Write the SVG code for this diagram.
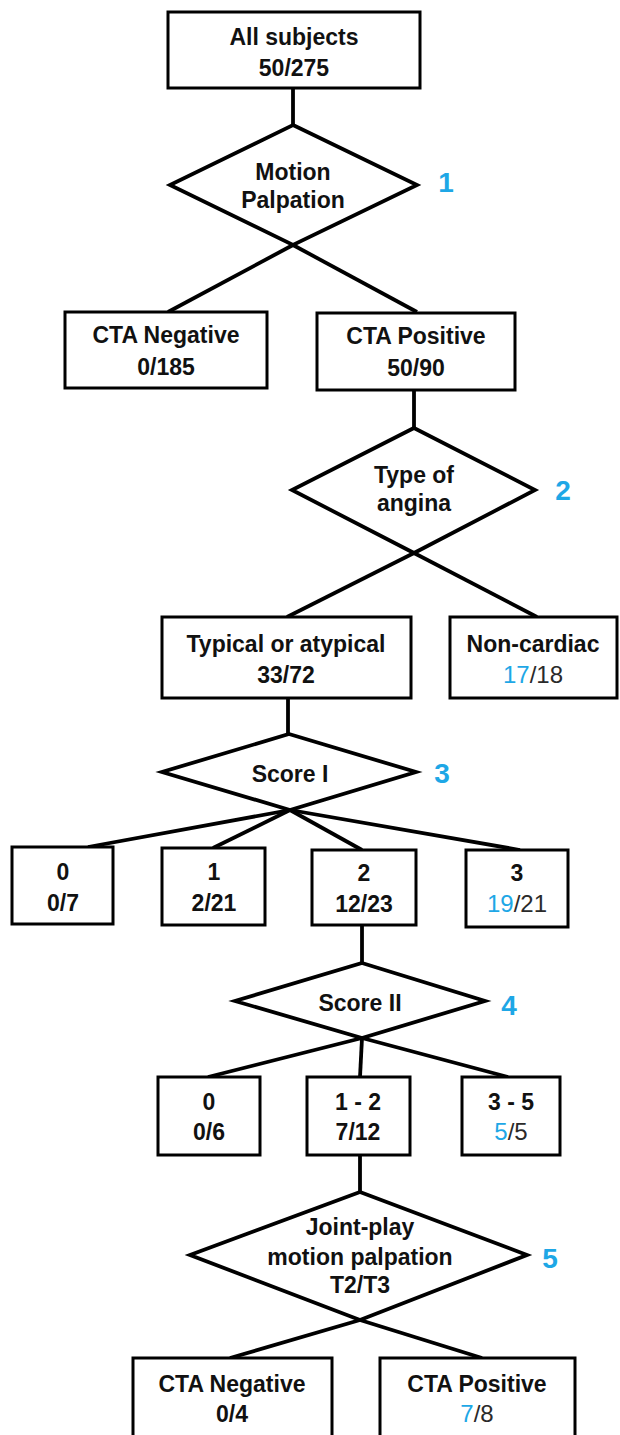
<svg xmlns="http://www.w3.org/2000/svg" width="620" height="1435" viewBox="0 0 620 1435">
<style>
.box{fill:#fff;stroke:#000;stroke-width:3}
.dia{fill:#fff;stroke:#000;stroke-width:3.8;stroke-linejoin:miter}
.con{stroke:#000;stroke-width:3.8;fill:none}
text{font-family:"Liberation Sans",Arial,sans-serif;font-size:23px;font-weight:bold;text-anchor:middle;fill:#111}
.lt{font-weight:normal;font-size:24px}
.num{fill:#1ea7e6;font-size:28px;font-weight:bold;text-anchor:middle}
.b{fill:#1ea7e6}
.g{fill:#2a2a2a}
</style>
<rect width="620" height="1435" fill="#fff"/>
<g id="connectors">
<line class="con" x1="293" y1="88" x2="293" y2="125"/>
<line class="con" x1="293" y1="245" x2="168" y2="312"/>
<line class="con" x1="293" y1="245" x2="417" y2="312"/>
<line class="con" x1="414" y1="390" x2="414" y2="428"/>
<line class="con" x1="414" y1="553" x2="287" y2="617"/>
<line class="con" x1="414" y1="553" x2="537" y2="617"/>
<line class="con" x1="288" y1="697" x2="288" y2="734"/>
<line class="con" x1="290" y1="810" x2="88" y2="847"/>
<line class="con" x1="290" y1="810" x2="213" y2="848"/>
<line class="con" x1="290" y1="810" x2="362" y2="850"/>
<line class="con" x1="290" y1="810" x2="520" y2="850"/>
<line class="con" x1="362" y1="925" x2="362" y2="963"/>
<line class="con" x1="362" y1="1038" x2="208" y2="1077"/>
<line class="con" x1="362" y1="1038" x2="360" y2="1077"/>
<line class="con" x1="362" y1="1038" x2="508" y2="1077"/>
<line class="con" x1="360" y1="1155" x2="360" y2="1192"/>
<line class="con" x1="360" y1="1320" x2="230" y2="1358"/>
<line class="con" x1="360" y1="1320" x2="482" y2="1358"/>
</g>
<g id="n-all">
<rect class="box" x="168" y="12" width="252" height="76"/>
<text x="294" y="45">All subjects</text>
<text x="294" y="76">50/275</text>
</g>
<g id="d1">
<polygon class="dia" points="293,125 417,185 293,245 170,185"/>
<text x="293" y="180">Motion</text>
<text x="293" y="208">Palpation</text>
<text class="num" x="446" y="192">1</text>
</g>
<g id="n-cta-neg">
<rect class="box" x="65" y="312" width="202" height="76"/>
<text x="166" y="343">CTA Negative</text>
<text x="166" y="375">0/185</text>
</g>
<g id="n-cta-pos">
<rect class="box" x="317" y="313" width="198" height="77"/>
<text x="416" y="344">CTA Positive</text>
<text x="416" y="376">50/90</text>
</g>
<g id="d2">
<polygon class="dia" points="414,428 535,490 414,553 292,490"/>
<text x="414" y="483">Type of</text>
<text x="414" y="511">angina</text>
<text class="num" x="563" y="500">2</text>
</g>
<g id="n-typical">
<rect class="box" x="162" y="617" width="249" height="81"/>
<text x="286" y="652">Typical or atypical</text>
<text x="286" y="683">33/72</text>
</g>
<g id="n-noncardiac">
<rect class="box" x="450" y="617" width="167" height="81"/>
<text x="533" y="652">Non-cardiac</text>
<text class="lt" x="533" y="683"><tspan class="b">17</tspan><tspan class="g">/18</tspan></text>
</g>
<g id="d3">
<polygon class="dia" points="289,734 416,772 290,810 162,772"/>
<text x="290" y="782">Score I</text>
<text class="num" x="442" y="783">3</text>
</g>
<g id="n-s1-0">
<rect class="box" x="12" y="847" width="101" height="77"/>
<text x="63" y="880">0</text>
<text x="63" y="911">0/7</text>
</g>
<g id="n-s1-1">
<rect class="box" x="162" y="848" width="103" height="77"/>
<text x="214" y="880">1</text>
<text x="214" y="911">2/21</text>
</g>
<g id="n-s1-2">
<rect class="box" x="312" y="850" width="104" height="75"/>
<text x="364" y="881">2</text>
<text x="364" y="912">12/23</text>
</g>
<g id="n-s1-3">
<rect class="box" x="466" y="850" width="102" height="77"/>
<text x="517" y="881">3</text>
<text class="lt" x="517" y="912"><tspan class="b">19</tspan><tspan class="g">/21</tspan></text>
</g>
<g id="d4">
<polygon class="dia" points="362,963 485,1001 362,1038 235,1001"/>
<text x="360" y="1011">Score II</text>
<text class="num" x="509" y="1015">4</text>
</g>
<g id="n-s2-0">
<rect class="box" x="158" y="1077" width="102" height="78"/>
<text x="209" y="1110">0</text>
<text x="209" y="1140">0/6</text>
</g>
<g id="n-s2-12">
<rect class="box" x="307" y="1077" width="103" height="78"/>
<text x="358" y="1110">1 - 2</text>
<text x="358" y="1140">7/12</text>
</g>
<g id="n-s2-35">
<rect class="box" x="462" y="1077" width="98" height="78"/>
<text x="511" y="1110">3 - 5</text>
<text class="lt" x="511" y="1140"><tspan class="b">5</tspan><tspan class="g">/5</tspan></text>
</g>
<g id="d5">
<polygon class="dia" points="360,1192 527,1255 360,1320 190,1255"/>
<text x="360" y="1235">Joint-play</text>
<text x="360" y="1265">motion palpation</text>
<text x="360" y="1293">T2/T3</text>
<text class="num" x="550" y="1268">5</text>
</g>
<g id="n-final-neg">
<rect class="box" x="133" y="1358" width="199" height="90"/>
<text x="232" y="1392">CTA Negative</text>
<text x="232" y="1422">0/4</text>
</g>
<g id="n-final-pos">
<rect class="box" x="380" y="1358" width="195" height="90"/>
<text x="477" y="1392">CTA Positive</text>
<text class="lt" x="477" y="1422"><tspan class="b">7</tspan><tspan class="g">/8</tspan></text>
</g>
</svg>
